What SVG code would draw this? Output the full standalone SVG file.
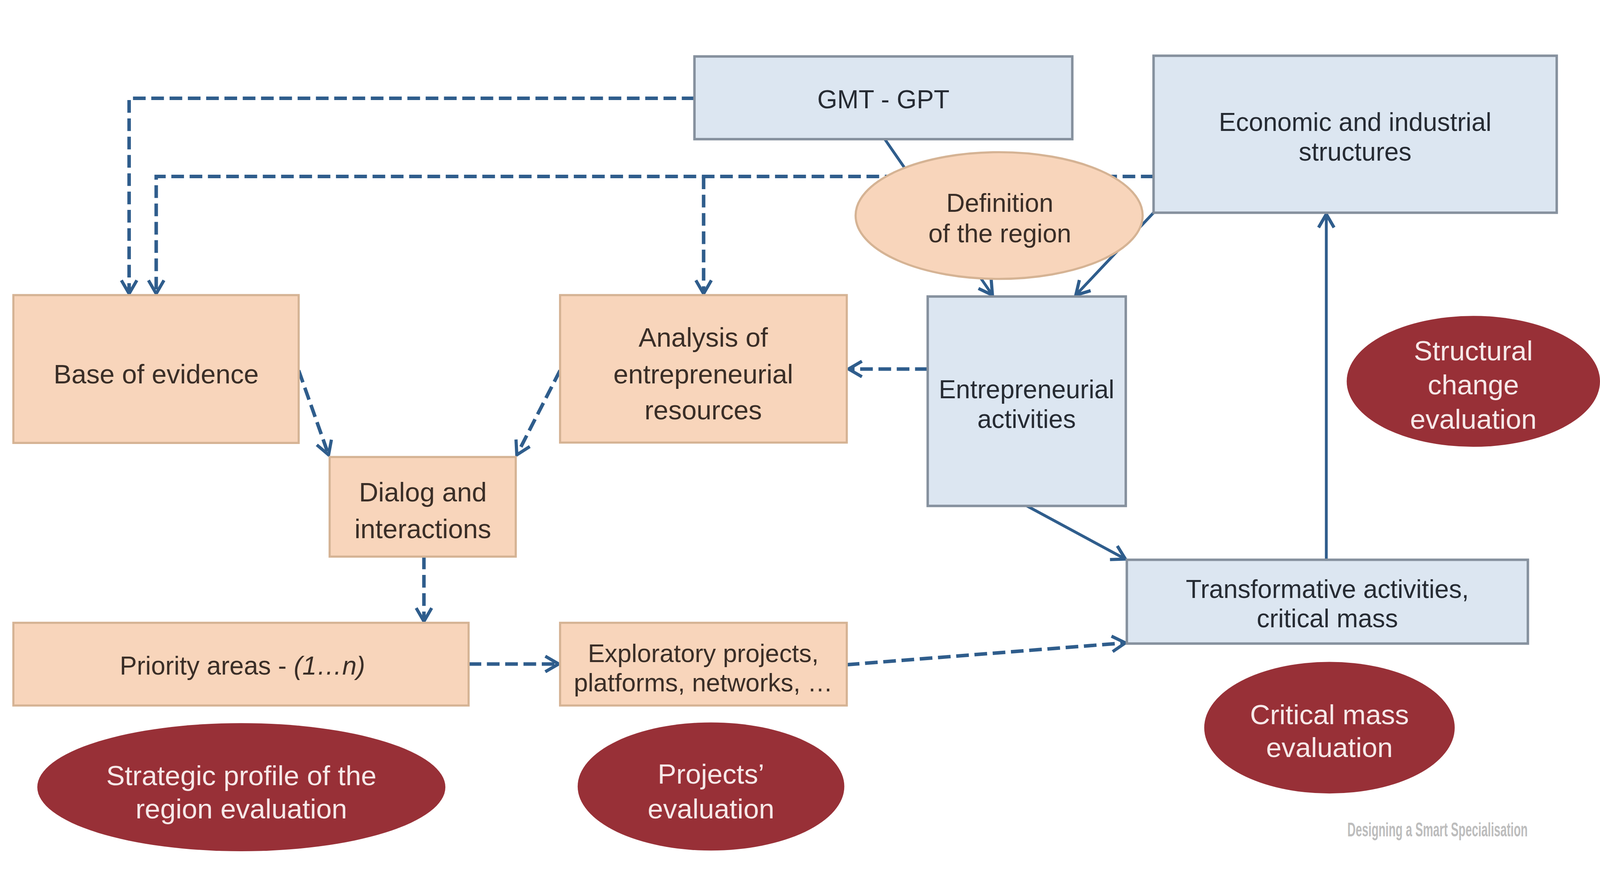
<svg xmlns="http://www.w3.org/2000/svg" width="4548" height="2290" viewBox="0 0 4548 2290" style="width:100%;height:100%">
<defs>
<style>
.orange{fill:#F8D5BB;stroke:#D5B394;stroke-width:6}
.blue{fill:#DCE6F1;stroke:#86919E;stroke-width:7}
.red{fill:#983037;stroke:none}
.t{font-family:"Liberation Sans",Arial,sans-serif;font-size:73px;text-anchor:middle;dominant-baseline:central}
.to{fill:#3A2E27;font-size:76px}
.tb{fill:#262B33}
.tr{fill:#F6E8E8;font-size:79px}
.dash{fill:none;stroke:#2F5D8C;stroke-width:10;stroke-dasharray:36 16}
.solid{fill:none;stroke:#2F5D8C;stroke-width:8}
.foot{font-family:"Liberation Sans",Arial,sans-serif;font-size:56px;font-weight:bold;fill:#BDBDBD}
</style>
<marker id="arr" markerUnits="userSpaceOnUse" markerWidth="60" markerHeight="60" viewBox="0 0 60 60" refX="54" refY="30" orient="auto">
<path d="M16,8 L54,30 L16,52" fill="none" stroke="#2F5D8C" stroke-width="9"/>
</marker>
</defs>
<rect width="4548" height="2290" fill="#FFFFFF"/>
<g id="connectors">
<path class="dash" d="M1974,153 H367 V708" marker-end="url(#arr)"/>
<path class="dash" d="M3279,375 H444 V708" marker-end="url(#arr)"/>
<path class="dash" d="M2000,375 V708" marker-end="url(#arr)"/>
<path class="solid" d="M2515,269 L2821,712" marker-end="url(#arr)"/>
<path class="solid" d="M3279,478 L3058,712" marker-end="url(#arr)"/>
<path class="dash" d="M2637,922 H2412" marker-end="url(#arr)"/>
<path class="dash" d="M849,926 L934,1166" marker-end="url(#arr)"/>
<path class="dash" d="M1592,926 L1469,1166" marker-end="url(#arr)"/>
<path class="dash" d="M1205,1455 V1639" marker-end="url(#arr)"/>
<path class="dash" d="M1332,1760 H1588" marker-end="url(#arr)"/>
<path class="dash" d="M2407,1762 L3199,1700" marker-end="url(#arr)"/>
<path class="solid" d="M2919,1311 L3199,1462" marker-end="url(#arr)"/>
<path class="solid" d="M3770,1464 V482" marker-end="url(#arr)"/>
</g>
<g id="gmt-gpt">
<rect class="blue" x="1974" y="34" width="1074" height="235"/>
<text class="t tb" x="2511" y="156">GMT - GPT</text>
</g>
<g id="economic">
<rect class="blue" x="3279" y="32" width="1146" height="446"/>
<text class="t tb" x="3852" y="220">Economic and industrial</text>
<text class="t tb" x="3852" y="305">structures</text>
</g>
<g id="definition">
<ellipse cx="2840" cy="486" rx="408" ry="180" fill="#F8D5BB" stroke="#D5B394" stroke-width="6"/>
<text class="t to" x="2842" y="450" style="font-size:73px">Definition</text>
<text class="t to" x="2842" y="537" style="font-size:73px">of the region</text>
</g>
<g id="entrepreneurial">
<rect class="blue" x="2637" y="716" width="563" height="595"/>
<text class="t tb" x="2918" y="980">Entrepreneurial</text>
<text class="t tb" x="2918" y="1064">activities</text>
</g>
<g id="structural-eval">
<ellipse class="red" cx="4188" cy="957" rx="360" ry="186"/>
<text class="t tr" x="4188" y="870">Structural</text>
<text class="t tr" x="4188" y="967">change</text>
<text class="t tr" x="4188" y="1064">evaluation</text>
</g>
<g id="transformative">
<rect class="blue" x="3203" y="1464" width="1140" height="238"/>
<text class="t tb" x="3773" y="1547">Transformative activities,</text>
<text class="t tb" x="3773" y="1630">critical mass</text>
</g>
<g id="critical-eval">
<ellipse class="red" cx="3779" cy="1941" rx="356" ry="187"/>
<text class="t tr" x="3779" y="1904">Critical mass</text>
<text class="t tr" x="3779" y="1997">evaluation</text>
</g>
<g id="base">
<rect class="orange" x="38" y="712" width="811" height="420"/>
<text class="t to" x="444" y="937">Base of evidence</text>
</g>
<g id="analysis">
<rect class="orange" x="1592" y="712" width="815" height="419"/>
<text class="t to" x="1999" y="832">Analysis of</text>
<text class="t to" x="1999" y="937">entrepreneurial</text>
<text class="t to" x="1999" y="1039">resources</text>
</g>
<g id="dialog">
<rect class="orange" x="937" y="1172" width="529" height="283"/>
<text class="t to" x="1202" y="1272">Dialog and</text>
<text class="t to" x="1202" y="1377">interactions</text>
</g>
<g id="priority">
<rect class="orange" x="38" y="1643" width="1294" height="235"/>
<text class="t to" x="689" y="1765" style="font-size:73px">Priority areas - <tspan font-style="italic">(1…n)</tspan></text>
</g>
<g id="exploratory">
<rect class="orange" x="1592" y="1643" width="815" height="235"/>
<text class="t to" x="1999" y="1730" style="font-size:72px">Exploratory projects,</text>
<text class="t to" x="1999" y="1813" style="font-size:72px">platforms, networks, …</text>
</g>
<g id="strategic-eval">
<ellipse class="red" cx="686" cy="2110" rx="580" ry="182"/>
<text class="t tr" x="686" y="2077">Strategic profile of the</text>
<text class="t tr" x="686" y="2172">region evaluation</text>
</g>
<g id="projects-eval">
<ellipse class="red" cx="2021" cy="2108" rx="379" ry="182"/>
<text class="t tr" x="2021" y="2073">Projects’</text>
<text class="t tr" x="2021" y="2172">evaluation</text>
</g>
<g id="footer" transform="translate(3830,2250) scale(0.58,1)">
<text class="foot" x="0" y="0">Designing a Smart Specialisation</text>
</g>
</svg>
